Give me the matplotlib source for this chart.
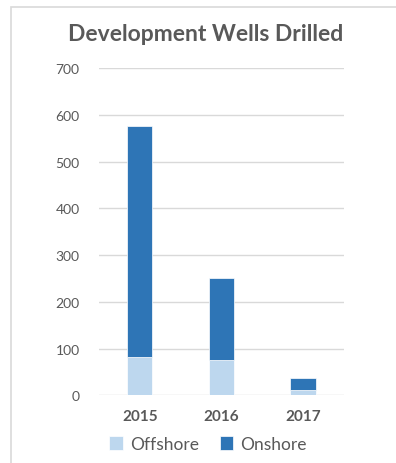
import matplotlib.pyplot as plt
from matplotlib.patches import Rectangle

years = ["2015", "2016", "2017"]
offshore = [82, 76, 12]
onshore_total = [575, 251, 36]
onshore = [t - o for t, o in zip(onshore_total, offshore)]

plt.rcParams['font.family'] = ['Lato', 'DejaVu Sans']
grey = "#595959"

fig = plt.figure(figsize=(3.96, 4.64), dpi=100)

# light border around the chart area
fig.patches.append(Rectangle((11 / 396, -0.02), 1.0, 0.9828 + 0.02,
                             transform=fig.transFigure, fill=False,
                             edgecolor="#d9d9d9", linewidth=1.2))

ax = fig.add_axes([0.25, 0.1459, 0.618, 0.7054])
x = range(len(years))
ax.bar(x, offshore, width=0.31, color="#BDD7EE", label="Offshore",
       edgecolor="white", linewidth=0.5, zorder=3)
ax.bar(x, onshore, width=0.31, bottom=offshore, color="#2E75B6",
       label="Onshore", edgecolor="white", linewidth=0.5, zorder=3)

ax.set_xlim(-0.5, 2.5)
ax.set_ylim(0, 700)
ax.set_yticks(range(0, 701, 100))
ax.set_xticks(list(x))
ax.set_xticklabels(years, fontweight="bold", fontsize=11, color=grey)
ax.tick_params(axis="y", labelsize=10, colors=grey, length=0, pad=14)
ax.tick_params(axis="x", length=0, pad=10)
ax.grid(axis="y", color="#d9d9d9", linewidth=1, zorder=0)
for s in ax.spines.values():
    s.set_visible(False)

fig.text(0.518, 0.925, "Development Wells Drilled", ha="center", va="center",
         fontsize=16.5, fontweight="bold", color=grey)

fig.legend(loc="center", bbox_to_anchor=(0.525, 0.041), ncol=2, frameon=False,
           fontsize=12.5, handlelength=0.8, handleheight=0.8,
           handletextpad=0.4, columnspacing=1.2, labelcolor=grey)

fig.savefig("out.png", dpi=100)
